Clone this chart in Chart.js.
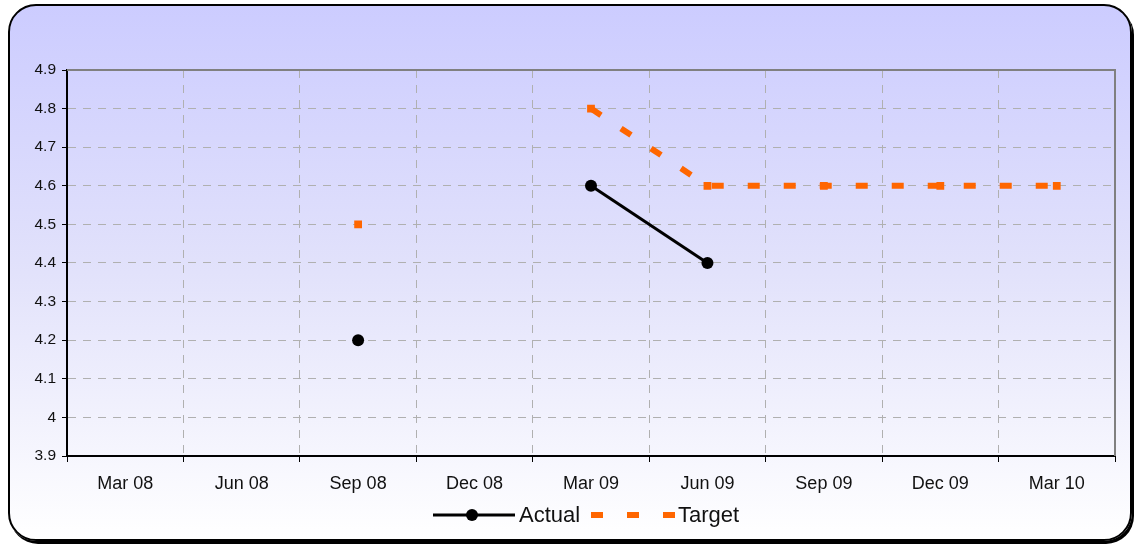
<!DOCTYPE html>
<html>
<head>
<meta charset="utf-8">
<script src="https://cdn.jsdelivr.net/npm/chart.js@4/dist/chart.umd.min.js"></script>
<style>
  html, body { margin: 0; padding: 0; background: #ffffff; }
  body { width: 1134px; height: 544px; position: relative; overflow: hidden; }
  #box {
    position: absolute; left: 8px; top: 4px; width: 1120px; height: 533px;
    border: 2px solid #000; border-radius: 28px;
    box-shadow: 2px 3px 0 #000;
    background: linear-gradient(#ccccff 0%, #e2e2fb 50%, #ffffff 100%);
  }
  #lineChart { position: absolute; left: 0; top: 0; }
</style>
</head>
<body>
<div id="box"></div>
<canvas id="lineChart" width="1134" height="544"></canvas>
<script>
// categories and values
const quarters = ["Mar 08", "Jun 08", "Sep 08", "Dec 08", "Mar 09", "Jun 09", "Sep 09", "Dec 09", "Mar 10"];
const actualValues = [null, null, 4.2, null, 4.6, 4.4, null, null, null];
const targetValues = [null, null, 4.5, null, 4.8, 4.6, 4.6, 4.6, 4.6];
const seriesNames = ["Actual", "Target"];

const gridGrey = "#b0b0b0";
const orange = "#ff6600";

// plot frame: grey top/right edges
const framePlugin = {
  id: "frame",
  beforeDatasetsDraw(chart) {
    const { ctx, chartArea: a } = chart;
    ctx.save();
    ctx.strokeStyle = "#808080";
    ctx.lineWidth = 2;
    ctx.beginPath();
    ctx.moveTo(a.left, a.top);
    ctx.lineTo(a.right, a.top);
    ctx.lineTo(a.right, a.bottom);
    ctx.stroke();
    ctx.restore();
  },
};

// legend drawn by hand so the line samples look like the series
const legendPlugin = {
  id: "handLegend",
  afterDraw(chart) {
    const ctx = chart.ctx;
    const y = 515;
    ctx.save();
    ctx.font = "22px 'Liberation Sans', Arial, sans-serif";
    ctx.textBaseline = "middle";

    // Actual
    ctx.strokeStyle = "#000";
    ctx.lineWidth = 3;
    ctx.beginPath();
    ctx.moveTo(433, y);
    ctx.lineTo(515, y);
    ctx.stroke();
    ctx.beginPath();
    ctx.arc(472, y, 6, 0, Math.PI * 2);
    ctx.fillStyle = "#000";
    ctx.fill();
    ctx.fillStyle = "#111";
    ctx.fillText(seriesNames[0], 519, y + 1);

    // Target
    ctx.strokeStyle = orange;
    ctx.lineWidth = 6;
    ctx.setLineDash([12, 24]);
    ctx.beginPath();
    ctx.moveTo(591, y);
    ctx.lineTo(676, y);
    ctx.stroke();
    ctx.setLineDash([]);
    ctx.fillText(seriesNames[1], 678, y + 1);
    ctx.restore();
  },
};

const ctx = document.getElementById("lineChart").getContext("2d");

new Chart(ctx, {
  type: "line",
  data: {
    labels: quarters,
    datasets: [
      {
        label: seriesNames[1],
        data: targetValues,
        borderColor: orange,
        backgroundColor: orange,
        borderWidth: 6,
        borderDash: [12, 24],
        borderCapStyle: "butt",
        pointStyle: "rect",
        pointRadius: 5.5,
        pointBorderWidth: 0,
        spanGaps: false,
        tension: 0,
      },
      {
        label: seriesNames[0],
        data: actualValues,
        borderColor: "#000",
        backgroundColor: "#000",
        borderWidth: 3,
        pointStyle: "circle",
        pointRadius: 6,
        pointBorderWidth: 0,
        spanGaps: false,
        tension: 0,
      },
    ],
  },
  options: {
    responsive: false,
    animation: false,
    devicePixelRatio: 1,
    layout: { padding: { top: 70, right: 19, left: 0, bottom: 0 } },
    plugins: {
      legend: { display: false },
      tooltip: { enabled: false },
    },
    scales: {
      x: {
        offset: true,
        grid: {
          offset: true,
          color: gridGrey,
          lineWidth: 1,
          tickColor: "#000",
          tickLength: 6,
          tickBorderDash: [],
        },
        border: { color: "#000", width: 2, dash: [8, 7] },
        ticks: {
          color: "#111",
          padding: 11,
          font: { family: "'Liberation Sans', Arial, sans-serif", size: 18 },
          maxRotation: 0,
        },
        afterFit(scale) {
          scale.height = 88;
        },
      },
      y: {
        min: 3.9,
        max: 4.9,
        grid: {
          color: gridGrey,
          lineWidth: 1,
          tickColor: "#000",
          tickLength: 5,
          tickBorderDash: [],
        },
        border: { color: "#000", width: 2, dash: [8, 7] },
        ticks: {
          stepSize: 0.1,
          color: "#111",
          padding: 6,
          font: { family: "'Liberation Sans', Arial, sans-serif", size: 15.5 },
          callback: (v) => String(Number(v.toFixed(1))),
        },
        afterFit(scale) {
          scale.width = 67;
        },
      },
    },
  },
  plugins: [framePlugin, legendPlugin],
});
</script>
</body>
</html>
